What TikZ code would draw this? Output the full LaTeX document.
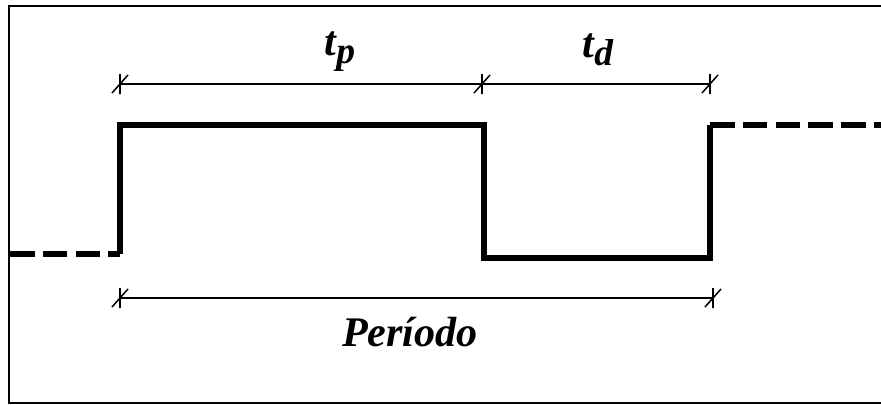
\documentclass[tikz,border=0pt]{standalone}
\usepackage{fontspec}
\setmainfont{Liberation Serif}
\begin{document}
\begin{tikzpicture}[
    x=1cm, y=1cm,
    et/.style={font=\fontsize{36}{38}\selectfont\bfseries\itshape, inner sep=1pt},
    seg/.style={black, line width=5.5pt, line join=miter},
    segtr/.style={seg, dash pattern=on 21pt off 7pt},
    quota/.style={black, line width=1.6pt},
    tacca/.style={black, line width=1.3pt},
  ]

  % ---- geometria ------------------------------------------------------------
  % cornice (0.27,-0.18) -- (26.43,-12.09);  livello alto y=-3.75;  basso y=-7.7
  \useasboundingbox (0,0) rectangle (26.43,-12.15);
  \draw[black, line width=2.4pt] (26.60,-0.18) -- (0.27,-0.18) -- (0.27,-12.09) -- (26.60,-12.09);

  \coordinate (s0) at (0.30,-7.62);
  \coordinate (s1) at (3.60,-7.62);
  \coordinate (s2) at (3.60,-3.75);
  \coordinate (s3) at (14.52,-3.75);
  \coordinate (s4) at (14.52,-7.74);
  \coordinate (s5) at (21.30,-7.74);
  \coordinate (s6) at (21.30,-3.75);
  \coordinate (s7) at (26.60,-3.75);

  % ---- il segnale -----------------------------------------------------------
  \draw[segtr] (s0) -- (s1);
  \draw[seg]   (s1) -- (s2) -- (s3) -- (s4) -- (s5) -- (s6);
  \draw[segtr] (s6) -- (s7);

  % ---- quote ----------------------------------------------------------------
  \coordinate (qa) at (3.60,-2.52);
  \coordinate (qb) at (14.46,-2.52);
  \coordinate (qc) at (21.30,-2.52);
  \coordinate (pa) at (3.60,-8.94);
  \coordinate (pb) at (21.39,-8.94);

  \draw[quota] (qa) -- (qb) -- (qc);
  \draw[quota, line width=2.2pt] (pa) -- (pb);

  \foreach \q in {qa,qb,qc,pa,pb}
    \draw[tacca] ([yshift=0.30cm]\q) -- ([yshift=-0.30cm]\q)
                 ([shift={(-0.24,-0.27)}]\q) -- ([shift={(0.24,0.27)}]\q);

  % ---- etichette ------------------------------------------------------------
  \node[et] (tp) at (10.20,-1.55) {t\raisebox{-0.40ex}{\fontsize{32}{34}\selectfont p}};
  \node[et] (td) at (17.94,-1.50) {t\raisebox{-0.40ex}{\fontsize{32}{34}\selectfont d}};
  \node[et] (per) at (12.30,-9.95) {Período};

\end{tikzpicture}
\end{document}
